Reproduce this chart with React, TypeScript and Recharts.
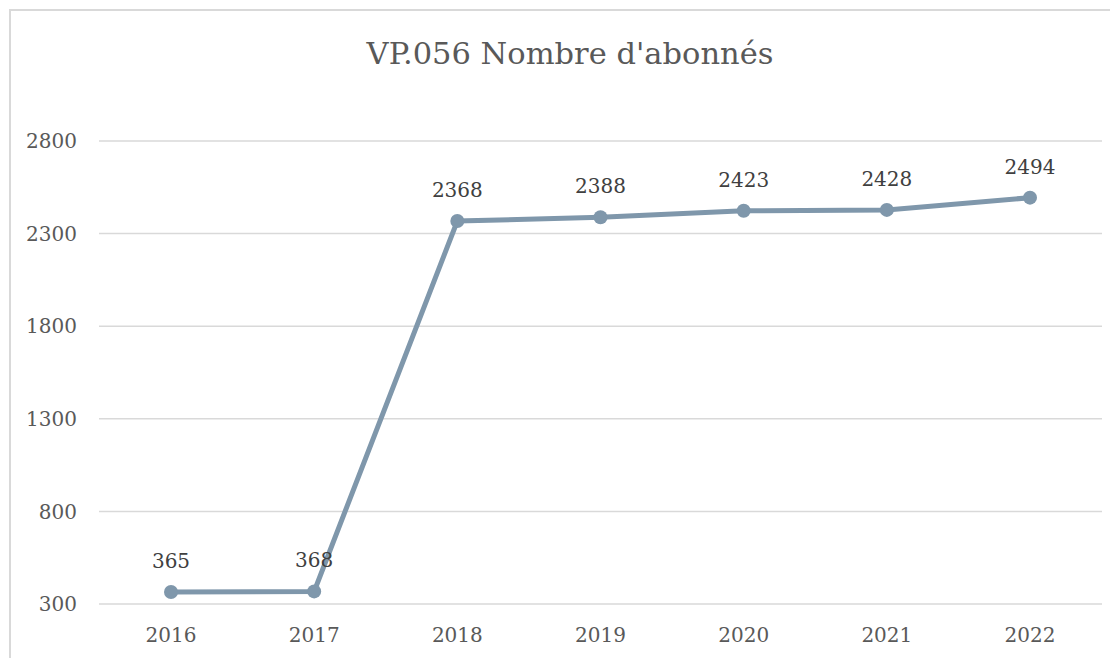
import { LineChart, Line, XAxis, YAxis, CartesianGrid, LabelList } from 'recharts';

const years = ['2016', '2017', '2018', '2019', '2020', '2021', '2022'];
const subscribers = [365, 368, 2368, 2388, 2423, 2428, 2494];
const yTicks = [300, 800, 1300, 1800, 2300, 2800];

const data = years.map((year, i) => ({ year, value: subscribers[i] }));

const font = '"DejaVu Serif", "Liberation Serif", serif';

export default function App() {
  return (
    <div style={{ position: 'relative', width: 1110, height: 650, overflow: 'hidden', background: '#fff' }}>
      <div
        style={{
          position: 'absolute',
          left: 1,
          top: 1,
          width: 1300,
          height: 800,
          borderLeft: '2px solid #d9d9d9',
          borderTop: '2px solid #d9d9d9',
        }}
      />
      <div
        style={{
          position: 'absolute',
          left: 7,
          top: 26,
          width: 1110,
          textAlign: 'center',
          fontFamily: font,
          fontSize: 30.5,
          color: '#595959',
          lineHeight: '40px',
        }}
      >
        VP.056 Nombre d'abonnés
      </div>
      <div style={{ position: 'absolute', left: 0, top: 0 }}>
        <LineChart width={1110} height={650} data={data} margin={{ top: 133, right: 16, bottom: 24, left: 0 }}>
          <CartesianGrid vertical={false} stroke="#d9d9d9" strokeWidth={1.5} />
          <XAxis
            dataKey="year"
            axisLine={false}
            tickLine={false}
            height={30}
            padding={{ left: 72, right: 72 }}
            tickSize={0}
            tickMargin={24}
            tick={{ fill: '#595959', fontSize: 20, fontFamily: font }}
          />
          <YAxis
            domain={[300, 2800]}
            ticks={yTicks}
            width={91}
            axisLine={false}
            tickLine={false}
            tickSize={0}
            tickMargin={22}
            tick={{ fill: '#595959', fontSize: 20, fontFamily: font }}
          />
          <Line
            type="linear"
            dataKey="value"
            stroke="#7f97ab"
            strokeWidth={5}
            dot={{ r: 7, fill: '#7f97ab', stroke: 'none' }}
            isAnimationActive={false}
          >
            <LabelList
              dataKey="value"
              position="top"
              offset={24}
              fill="#404040"
              fontSize={20}
              fontFamily={font}
            />
          </Line>
        </LineChart>
      </div>
    </div>
  );
}
